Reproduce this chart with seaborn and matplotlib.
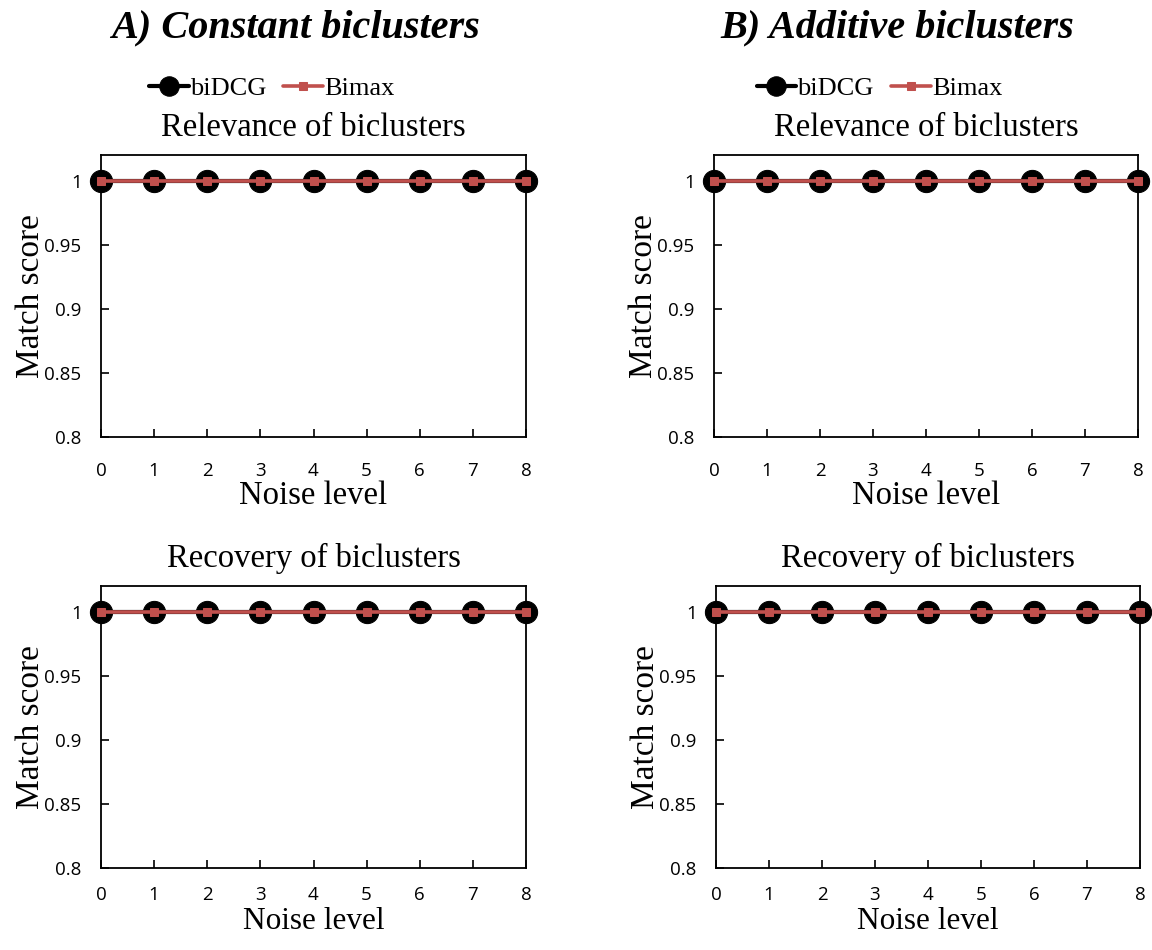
import matplotlib
matplotlib.use("Agg")
import matplotlib.pyplot as plt
import seaborn as sns
import pandas as pd
import numpy as np

# ---- data ----
noise_levels = [0, 1, 2, 3, 4, 5, 6, 7, 8]
const_relevance_bidcg = [1, 1, 1, 1, 1, 1, 1, 1, 1]
const_relevance_bimax = [1, 1, 1, 1, 1, 1, 1, 1, 1]
const_recovery_bidcg = [1, 1, 1, 1, 1, 1, 1, 1, 1]
const_recovery_bimax = [1, 1, 1, 1, 1, 1, 1, 1, 1]
add_relevance_bidcg = [1, 1, 1, 1, 1, 1, 1, 1, 1]
add_relevance_bimax = [1, 1, 1, 1, 1, 1, 1, 1, 1]
add_recovery_bidcg = [1, 1, 1, 1, 1, 1, 1, 1, 1]
add_recovery_bimax = [1, 1, 1, 1, 1, 1, 1, 1, 1]
y_ticks = [0.8, 0.85, 0.9, 0.95, 1]
y_tick_labels = ["0.8", "0.85", "0.9", "0.95", "1"]
methods = ["biDCG", "Bimax"]
column_titles = ["A) Constant biclusters", "B) Additive biclusters"]
panel_titles = ["Relevance of biclusters", "Recovery of biclusters"]

sns.set_theme(style="white")
plt.rcParams["font.family"] = ["Liberation Serif", "DejaVu Serif"]
for k in ["text.color", "axes.labelcolor", "xtick.color", "ytick.color", "axes.edgecolor"]:
    plt.rcParams[k] = "black"

fig = plt.figure(figsize=(11.52, 9.5), dpi=100)
W, H = 1152, 950

def box(x0, y0, x1, y1):
    return [x0 / W, 1 - y1 / H, (x1 - x0) / W, (y1 - y0) / H]

positions = {
    (0, 0): box(101, 155, 526, 437),
    (0, 1): box(714, 155, 1138, 437),
    (1, 0): box(101, 586, 526, 868),
    (1, 1): box(716, 586, 1140, 868),
}
series = {
    (0, 0): (const_relevance_bidcg, const_relevance_bimax),
    (0, 1): (add_relevance_bidcg, add_relevance_bimax),
    (1, 0): (const_recovery_bidcg, const_recovery_bimax),
    (1, 1): (add_recovery_bidcg, add_recovery_bimax),
}
legend_x = {0: 0.402, 1: 0.39}
palette = {"biDCG": "black", "Bimax": "#C0504D"}
tick_font = "Open Sans"

for (r, c), pos in positions.items():
    ax = fig.add_axes(pos)
    b, m = series[(r, c)]
    df = pd.DataFrame({
        "Noise level": noise_levels * 2,
        "score": list(b) + list(m),
        "method": [methods[0]] * len(b) + [methods[1]] * len(m),
    })
    sns.lineplot(data=df[df.method == "biDCG"], x="Noise level", y="score",
                 color=palette["biDCG"], marker="o", markersize=16, linewidth=3,
                 markeredgecolor="black", ax=ax, label="biDCG", clip_on=False, zorder=3)
    sns.lineplot(data=df[df.method == "Bimax"], x="Noise level", y="score",
                 color=palette["Bimax"], marker="s", markersize=5.5, linewidth=2.6,
                 markeredgecolor=palette["Bimax"], ax=ax, label="Bimax", clip_on=False, zorder=4)
    ax.set_xlim(0, 8)
    ax.set_ylim(0.8, 1.02)
    ax.set_xticks(noise_levels)
    ax.set_xticklabels([str(v) for v in noise_levels], fontfamily=tick_font, fontsize=13.5)
    ax.set_yticks(y_ticks)
    ax.set_yticklabels(y_tick_labels, fontfamily=tick_font, fontsize=13.5)
    ax.tick_params(axis="both", direction="in", length=6, width=1.2, color="black",
                   bottom=True, left=True)
    ax.tick_params(axis="x", pad=18 if r == 0 else 13)
    ax.tick_params(axis="y", pad=14)
    for s in ax.spines.values():
        s.set_color("black")
        s.set_linewidth(1.3)
    if r == 0:
        ax.set_xlabel("Noise level", fontsize=23.5, labelpad=0)
    else:
        ax.set_xlabel("Noise level", fontsize=22.5, labelpad=2)
    ax.set_ylabel("Match score", fontsize=24, labelpad=-1)
    ax.set_title(panel_titles[r], fontsize=23.5, pad=14)
    if r == 0:
        ax.legend(loc="center", bbox_to_anchor=(legend_x[c], 1.235), ncol=2, frameon=False,
                  fontsize=19, handlelength=1.5, handletextpad=0.05, columnspacing=0.65,
                  borderpad=0)
        for h in ax.get_legend().legend_handles:
            if h.get_color() == "black":
                h.set_markersize(14)
    else:
        leg = ax.get_legend()
        if leg is not None:
            leg.remove()
    ax.grid(False)

fig.text(295 / W, 1 - 28 / H, column_titles[0], ha="center", va="center",
         fontsize=29, fontweight="bold", fontstyle="italic")
fig.text(897 / W, 1 - 28 / H, column_titles[1], ha="center", va="center",
         fontsize=29, fontweight="bold", fontstyle="italic")

fig.savefig("out.png", dpi=100, facecolor="white")
